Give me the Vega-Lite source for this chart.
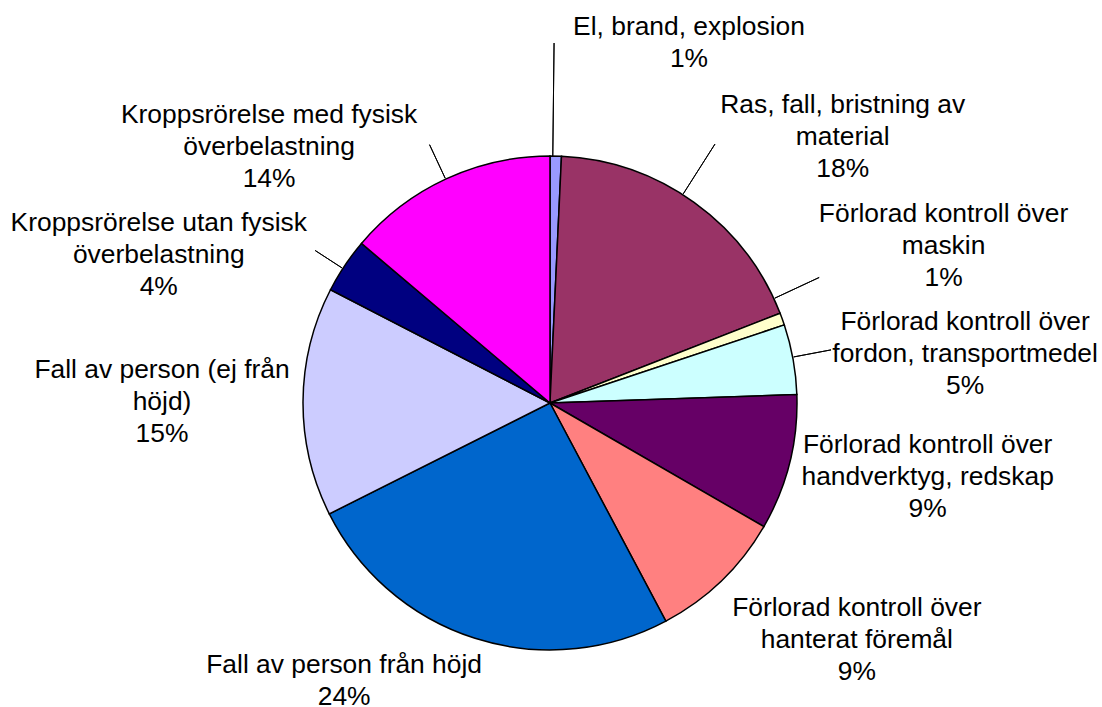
{
  "$schema": "https://vega.github.io/schema/vega-lite/v6.json",
  "autosize": {"type": "none"},
  "padding": {"left": 0, "top": 103, "right": 2, "bottom": 4},
  "width": 1100,
  "height": 600,
  "background": "white",
  "config": {
    "view": {"stroke": null},
    "text": {"font": "Liberation Sans", "fontSize": 26.4, "lineHeight": 32, "align": "center", "baseline": "middle", "lineBreak": "\n", "color": "black"}
  },
  "data": {
    "values": [
      {"order": 1, "cat": "El, brand, explosion", "v": 0.74, "label": "El, brand, explosion\n1%"},
      {"order": 2, "cat": "Ras, fall, bristning av material", "v": 18.34, "label": "Ras, fall, bristning av\nmaterial\n18%"},
      {"order": 3, "cat": "Förlorad kontroll över maskin", "v": 0.80, "label": "Förlorad kontroll över\nmaskin\n1%"},
      {"order": 4, "cat": "Förlorad kontroll över fordon, transportmedel", "v": 4.58, "label": "Förlorad kontroll över\nfordon, transportmedel\n5%"},
      {"order": 5, "cat": "Förlorad kontroll över handverktyg, redskap", "v": 8.88, "label": "Förlorad kontroll över\nhandverktyg, redskap\n9%"},
      {"order": 6, "cat": "Förlorad kontroll över hanterat föremål", "v": 8.89, "label": "Förlorad kontroll över\nhanterat föremål\n9%"},
      {"order": 7, "cat": "Fall av person från höjd", "v": 25.36, "label": "Fall av person från höjd\n24%"},
      {"order": 8, "cat": "Fall av person (ej från höjd)", "v": 14.99, "label": "Fall av person (ej från\nhöjd)\n15%"},
      {"order": 9, "cat": "Kroppsrörelse utan fysisk överbelastning", "v": 3.60, "label": "Kroppsrörelse utan fysisk\növerbelastning\n4%"},
      {"order": 10, "cat": "Kroppsrörelse med fysisk överbelastning", "v": 13.82, "label": "Kroppsrörelse med fysisk\növerbelastning\n14%"}
    ]
  },
  "transform": [
    {"stack": "v", "groupby": [], "sort": [{"field": "order", "order": "ascending"}], "as": ["s0", "s1"]}
  ],
  "layer": [
    {
      "mark": {"type": "arc", "outerRadius": 247, "stroke": "black", "strokeWidth": 1.5},
      "encoding": {
        "theta": {"field": "s0", "type": "quantitative", "stack": null, "scale": {"domain": [0, 100]}},
        "theta2": {"field": "s1"},
        "color": {
          "field": "cat", "type": "nominal", "legend": null,
          "scale": {
            "domain": ["El, brand, explosion", "Ras, fall, bristning av material", "Förlorad kontroll över maskin", "Förlorad kontroll över fordon, transportmedel", "Förlorad kontroll över handverktyg, redskap", "Förlorad kontroll över hanterat föremål", "Fall av person från höjd", "Fall av person (ej från höjd)", "Kroppsrörelse utan fysisk överbelastning", "Kroppsrörelse med fysisk överbelastning"],
            "range": ["#9999FF", "#993366", "#FFFFCC", "#CCFFFF", "#660066", "#FF8080", "#0066CC", "#CCCCFF", "#000080", "#FF00FF"]
          }
        }
      }
    },
    {"transform": [{"filter": "datum.order == 1"}], "mark": {"type": "arc", "innerRadius": 247, "outerRadius": 360, "thetaOffset": 0.0113, "theta2Offset": 0.0113, "filled": false, "stroke": "black", "strokeWidth": 1}, "encoding": {"theta": {"field": "s0", "type": "quantitative", "stack": null}, "theta2": {"field": "s0"}}},
    {"transform": [{"filter": "datum.order == 2"}], "mark": {"type": "arc", "innerRadius": 248, "outerRadius": 307, "thetaOffset": 0.5208, "theta2Offset": 0.5208, "filled": false, "stroke": "black", "strokeWidth": 1}, "encoding": {"theta": {"field": "s0", "type": "quantitative", "stack": null}, "theta2": {"field": "s0"}}},
    {"transform": [{"filter": "datum.order == 3"}], "mark": {"type": "arc", "innerRadius": 248, "outerRadius": 297, "thetaOffset": -0.0644, "theta2Offset": -0.0644, "filled": false, "stroke": "black", "strokeWidth": 1}, "encoding": {"theta": {"field": "s0", "type": "quantitative", "stack": null}, "theta2": {"field": "s0"}}},
    {"transform": [{"filter": "datum.order == 4"}], "mark": {"type": "arc", "innerRadius": 248, "outerRadius": 286, "thetaOffset": 0.1349, "theta2Offset": 0.1349, "filled": false, "stroke": "black", "strokeWidth": 1}, "encoding": {"theta": {"field": "s0", "type": "quantitative", "stack": null}, "theta2": {"field": "s0"}}},
    {"transform": [{"filter": "datum.order == 9"}], "mark": {"type": "arc", "innerRadius": 248, "outerRadius": 280, "thetaOffset": 0.0997, "theta2Offset": 0.0997, "filled": false, "stroke": "black", "strokeWidth": 1}, "encoding": {"theta": {"field": "s0", "type": "quantitative", "stack": null}, "theta2": {"field": "s0"}}},
    {"transform": [{"filter": "datum.order == 10"}], "mark": {"type": "arc", "innerRadius": 248, "outerRadius": 285, "thetaOffset": 0.432, "theta2Offset": 0.432, "filled": false, "stroke": "black", "strokeWidth": 1}, "encoding": {"theta": {"field": "s0", "type": "quantitative", "stack": null}, "theta2": {"field": "s0"}}},
    {"transform": [{"filter": "datum.order == 1"}], "mark": {"type": "text", "radius": 385, "thetaOffset": 0.3693, "dy": -17}, "encoding": {"theta": {"field": "s0", "type": "quantitative", "stack": null}, "text": {"field": "label"}}},
    {"transform": [{"filter": "datum.order == 2"}], "mark": {"type": "text", "radius": 394, "thetaOffset": 0.7909, "dy": -34}, "encoding": {"theta": {"field": "s0", "type": "quantitative", "stack": null}, "text": {"field": "label"}}},
    {"transform": [{"filter": "datum.order == 3"}], "mark": {"type": "text", "radius": 424, "thetaOffset": -0.0094, "dy": -31}, "encoding": {"theta": {"field": "s0", "type": "quantitative", "stack": null}, "text": {"field": "label"}}},
    {"transform": [{"filter": "datum.order == 4"}], "mark": {"type": "text", "radius": 418, "thetaOffset": 0.2042, "dy": -32}, "encoding": {"theta": {"field": "s0", "type": "quantitative", "stack": null}, "text": {"field": "label"}}},
    {"transform": [{"filter": "datum.order == 5"}], "mark": {"type": "text", "radius": 385, "thetaOffset": 0.2298, "dy": -33}, "encoding": {"theta": {"field": "s0", "type": "quantitative", "stack": null}, "text": {"field": "label"}}},
    {"transform": [{"filter": "datum.order == 6"}], "mark": {"type": "text", "radius": 387, "thetaOffset": 0.1314, "dy": -31}, "encoding": {"theta": {"field": "s0", "type": "quantitative", "stack": null}, "text": {"field": "label"}}},
    {"transform": [{"filter": "datum.order == 7"}], "mark": {"type": "text", "radius": 345, "thetaOffset": 1.1277, "dy": -15}, "encoding": {"theta": {"field": "s0", "type": "quantitative", "stack": null}, "text": {"field": "label"}}},
    {"transform": [{"filter": "datum.order == 8"}], "mark": {"type": "text", "radius": 388, "thetaOffset": 0.463, "dy": -34}, "encoding": {"theta": {"field": "s0", "type": "quantitative", "stack": null}, "text": {"field": "label"}}},
    {"transform": [{"filter": "datum.order == 9"}], "mark": {"type": "text", "radius": 418, "thetaOffset": -0.1167, "dy": -33}, "encoding": {"theta": {"field": "s0", "type": "quantitative", "stack": null}, "text": {"field": "label"}}},
    {"transform": [{"filter": "datum.order == 10"}], "mark": {"type": "text", "radius": 380, "thetaOffset": 0.0364, "dy": -32}, "encoding": {"theta": {"field": "s0", "type": "quantitative", "stack": null}, "text": {"field": "label"}}}
  ]
}
